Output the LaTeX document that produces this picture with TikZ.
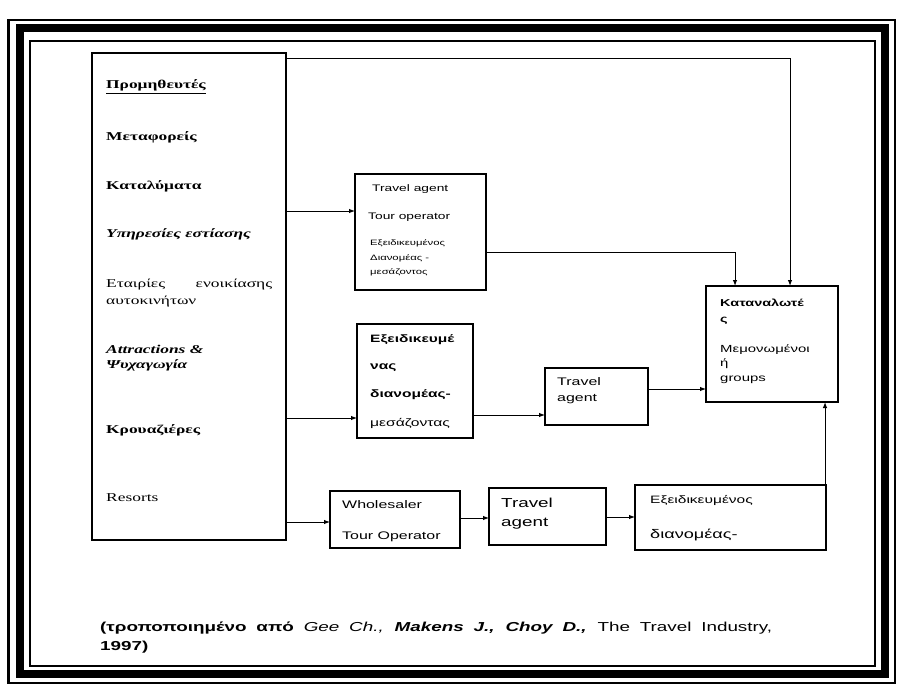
\documentclass[tikz,border=0pt]{standalone}
\usepackage{fontspec}
\usepackage{tikz}
\usetikzlibrary{arrows.meta}
\setmainfont[FakeStretch=1.45]{Liberation Serif}
\newfontfamily\grsans[FakeStretch=1.45]{Liberation Sans}
\newcommand{\fsz}[1]{\fontsize{#1}{#1}\selectfont}

\begin{document}
\begin{tikzpicture}[x=1pt, y=-1pt,
    box/.style = {draw, line width=1.1pt, inner sep=0pt, outer sep=0pt},
    lbl/.style = {anchor=base west, inner sep=0pt, font=\grsans\fsz{10.3}},
    sup/.style = {anchor=base west, inner sep=0pt, font=\rmfamily\fsz{12}},
    arr/.style = {line width=1pt, -{Latex[length=6pt,width=4.5pt]}}]
    \useasboundingbox (0,0) rectangle (899,690);
    \draw[line width=2.5pt] (8.5,20) rectangle (895,683);
    \draw[line width=8pt] (19.5,28) rectangle (884.5,674);
    \draw[line width=2.5pt] (30,41) rectangle (875,666);

    \node[box, minimum width=194pt, minimum height=487pt] (suppliers) at (189,296.5) {};
    \node[box, minimum width=131pt, minimum height=116pt] (agent1) at (420.5,232) {};
    \node[box, minimum width=116pt, minimum height=114pt] (dealer) at (415,381) {};
    \node[box, minimum width=103pt, minimum height=57pt] (agent2) at (596.5,396.5) {};
    \node[box, minimum width=132pt, minimum height=116pt] (consumers) at (772,344) {};
    \node[box, minimum width=130pt, minimum height=57pt] (wholesaler) at (395,519.5) {};
    \node[box, minimum width=117pt, minimum height=57pt] (agent3) at (547.5,516.5) {};
    \node[box, minimum width=191pt, minimum height=65pt] (special) at (730.5,517.5) {};

    \node[sup, font=\bfseries\fsz{12}] (s1) at (106,89) {\underline{Προμηθευτές}};
    \node[sup, font=\bfseries\fsz{12}] (s2) at (106,141) {Μεταφορείς};
    \node[sup, font=\bfseries\fsz{12}] (s3) at (106,189) {Καταλύματα};
    \node[sup, font=\bfseries\itshape\fsz{12}] (s4) at (106,237) {Υπηρεσίες εστίασης};
    \node[sup] (s5) at (106,287) {\makebox[166pt][s]{Εταιρίες ενοικίασης}};
    \node[sup] (s6) at (106,304) {αυτοκινήτων};
    \node[sup, font=\bfseries\itshape\fsz{12}] (s7) at (106,353) {Attractions \&};
    \node[sup, font=\bfseries\itshape\fsz{12}] (s8) at (106,368) {Ψυχαγωγία};
    \node[sup, font=\bfseries\fsz{12}] (s9) at (106,433) {Κρουαζιέρες};
    \node[sup] (s10) at (106,501) {Resorts};

    \node[lbl, font=\grsans\fsz{9.5}] (a1) at (372,191) {Travel agent};
    \node[lbl, font=\grsans\fsz{9.5}] (a2) at (368,219) {Tour operator};
    \node[lbl, font=\grsans\fsz{7.8}] (a3) at (370,245) {Εξειδικευμένος};
    \node[lbl, font=\grsans\fsz{7.8}] (a4) at (370,260) {Διανομέας -};
    \node[lbl, font=\grsans\fsz{7.8}] (a5) at (370,274) {μεσάζοντος};

    \node[lbl, font=\grsans\bfseries\fsz{10.7}] (d1) at (370,342) {Εξειδικευμέ};
    \node[lbl, font=\grsans\bfseries\fsz{10.7}] (d2) at (370,369) {νας};
    \node[lbl, font=\grsans\bfseries\fsz{10.7}] (d3) at (370,397) {διανομέας-};
    \node[lbl, font=\grsans\fsz{10.8}] (d4) at (370,426) {μεσάζοντας};

    \node[lbl, font=\grsans\fsz{11}] (t1) at (557,385) {Travel};
    \node[lbl, font=\grsans\fsz{11}] (t2) at (557,401) {agent};

    \node[lbl, font=\grsans\bfseries\fsz{10}] (c1) at (720,306) {Καταναλωτέ};
    \node[lbl, font=\grsans\bfseries\fsz{10}] (c2) at (720,322) {ς};
    \node[lbl] (c3) at (720,352) {Μεμονωμένοι};
    \node[lbl] (c4) at (720,366) {ή};
    \node[lbl] (c5) at (720,381) {groups};

    \node[lbl, font=\grsans\fsz{11}] (w1) at (342,508) {Wholesaler};
    \node[lbl, font=\grsans\fsz{11}] (w2) at (342,539) {Tour Operator};

    \node[lbl, font=\grsans\fsz{13}] (g1) at (501,507) {Travel};
    \node[lbl, font=\grsans\fsz{13}] (g2) at (501,526) {agent};

    \node[lbl, font=\grsans\fsz{10.7}] (e1) at (650,503) {Εξειδικευμένος};
    \node[lbl, font=\grsans\fsz{12.5}] (e2) at (650,538) {διανομέας-};

    \node[lbl, font=\grsans\bfseries\fsz{13}] (src1) at (100,631)
      {\makebox[672pt][s]{(τροποποιημένο από \textit{\mdseries Gee Ch.,} \textit{Makens J., Choy D.,} \mdseries The Travel Industry,}};
    \node[lbl, font=\grsans\bfseries\fsz{13}] (src2) at (100,650) {1997)};

    \coordinate (turn) at (790,59);
    \draw[arr] (suppliers.east |- turn) -- (turn) -- (turn |- consumers.north);
    \draw[arr] (suppliers.east |- 0,211) -- (agent1.west |- 0,211);
    \draw[arr] (agent1.east |- 0,252) -| (consumers.north -| 735,0);
    \draw[arr] (suppliers.east |- 0,418) -- (dealer.west |- 0,418);
    \draw[arr] (dealer.east |- 0,415) -- (agent2.west |- 0,415);
    \draw[arr] (agent2.east |- 0,389) -- (consumers.west |- 0,389);
    \draw[arr] (suppliers.east |- 0,522) -- (wholesaler.west |- 0,522);
    \draw[arr] (wholesaler.east |- 0,518) -- (agent3.west |- 0,518);
    \draw[arr] (agent3.east |- 0,517) -- (special.west |- 0,517);
    \draw[arr] (special.north -| 825,0) -- (consumers.south -| 825,0);
\end{tikzpicture}
\end{document}
